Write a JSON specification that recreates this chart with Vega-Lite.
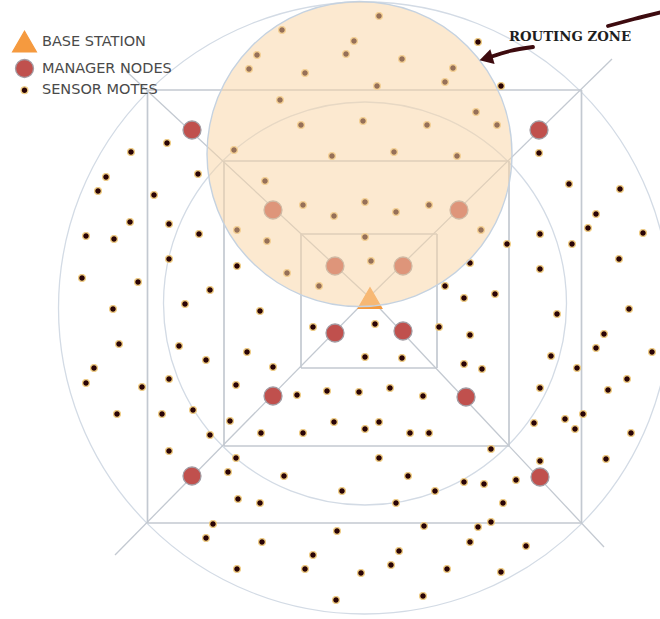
{
  "$schema": "https://vega.github.io/schema/vega-lite/v6.json",
  "width": 660,
  "height": 619,
  "padding": 0,
  "autosize": "none",
  "background": "white",
  "config": {"view": {"stroke": null}},
  "datasets": {
    "outer": [{"x": 364.5, "y": 308}],
    "middle": [{"x": 365, "y": 303.5}],
    "zone": [{"x": 359.5, "y": 154}],
    "squares": [
      {"x": 147.5, "y": 90, "x2": 581.5, "y2": 90},
      {"x": 147.5, "y": 523, "x2": 581.5, "y2": 523},
      {"x": 147.5, "y": 90, "x2": 147.5, "y2": 523},
      {"x": 581.5, "y": 90, "x2": 581.5, "y2": 523},
      {"x": 224, "y": 161, "x2": 509, "y2": 161},
      {"x": 224, "y": 446, "x2": 509, "y2": 446},
      {"x": 224, "y": 161, "x2": 224, "y2": 446},
      {"x": 509, "y": 161, "x2": 509, "y2": 446},
      {"x": 301, "y": 234, "x2": 437, "y2": 234},
      {"x": 301, "y": 368, "x2": 437, "y2": 368},
      {"x": 301, "y": 234, "x2": 301, "y2": 368},
      {"x": 437, "y": 234, "x2": 437, "y2": 368}
    ],
    "diagonals": [
      {"x": 369, "y": 297, "x2": 126, "y2": 71},
      {"x": 369, "y": 297, "x2": 612, "y2": 59},
      {"x": 369, "y": 297, "x2": 115, "y2": 555},
      {"x": 369, "y": 297, "x2": 604, "y2": 547}
    ],
    "nodes": [
      {"x": 379, "y": 16, "type": "SENSOR MOTES"},
      {"x": 282, "y": 30, "type": "SENSOR MOTES"},
      {"x": 354, "y": 41, "type": "SENSOR MOTES"},
      {"x": 257, "y": 55, "type": "SENSOR MOTES"},
      {"x": 346, "y": 54, "type": "SENSOR MOTES"},
      {"x": 402, "y": 59, "type": "SENSOR MOTES"},
      {"x": 249, "y": 69, "type": "SENSOR MOTES"},
      {"x": 305, "y": 73, "type": "SENSOR MOTES"},
      {"x": 453, "y": 68, "type": "SENSOR MOTES"},
      {"x": 445, "y": 82, "type": "SENSOR MOTES"},
      {"x": 377, "y": 86, "type": "SENSOR MOTES"},
      {"x": 280, "y": 100, "type": "SENSOR MOTES"},
      {"x": 476, "y": 112, "type": "SENSOR MOTES"},
      {"x": 497, "y": 125, "type": "SENSOR MOTES"},
      {"x": 301, "y": 125, "type": "SENSOR MOTES"},
      {"x": 363, "y": 121, "type": "SENSOR MOTES"},
      {"x": 427, "y": 125, "type": "SENSOR MOTES"},
      {"x": 234, "y": 150, "type": "SENSOR MOTES"},
      {"x": 332, "y": 156, "type": "SENSOR MOTES"},
      {"x": 394, "y": 152, "type": "SENSOR MOTES"},
      {"x": 457, "y": 156, "type": "SENSOR MOTES"},
      {"x": 265, "y": 181, "type": "SENSOR MOTES"},
      {"x": 303, "y": 205, "type": "SENSOR MOTES"},
      {"x": 365, "y": 202, "type": "SENSOR MOTES"},
      {"x": 334, "y": 216, "type": "SENSOR MOTES"},
      {"x": 396, "y": 212, "type": "SENSOR MOTES"},
      {"x": 429, "y": 205, "type": "SENSOR MOTES"},
      {"x": 237, "y": 230, "type": "SENSOR MOTES"},
      {"x": 267, "y": 241, "type": "SENSOR MOTES"},
      {"x": 365, "y": 237, "type": "SENSOR MOTES"},
      {"x": 481, "y": 230, "type": "SENSOR MOTES"},
      {"x": 371, "y": 261, "type": "SENSOR MOTES"},
      {"x": 287, "y": 273, "type": "SENSOR MOTES"},
      {"x": 319, "y": 286, "type": "SENSOR MOTES"},
      {"x": 478, "y": 42, "type": "SENSOR MOTES"},
      {"x": 501, "y": 86, "type": "SENSOR MOTES"},
      {"x": 507, "y": 244, "type": "SENSOR MOTES"},
      {"x": 470, "y": 263, "type": "SENSOR MOTES"},
      {"x": 445, "y": 286, "type": "SENSOR MOTES"},
      {"x": 464, "y": 298, "type": "SENSOR MOTES"},
      {"x": 495, "y": 294, "type": "SENSOR MOTES"},
      {"x": 237, "y": 266, "type": "SENSOR MOTES"},
      {"x": 210, "y": 290, "type": "SENSOR MOTES"},
      {"x": 260, "y": 311, "type": "SENSOR MOTES"},
      {"x": 167, "y": 143, "type": "SENSOR MOTES"},
      {"x": 131, "y": 152, "type": "SENSOR MOTES"},
      {"x": 198, "y": 174, "type": "SENSOR MOTES"},
      {"x": 106, "y": 177, "type": "SENSOR MOTES"},
      {"x": 98, "y": 191, "type": "SENSOR MOTES"},
      {"x": 154, "y": 195, "type": "SENSOR MOTES"},
      {"x": 130, "y": 222, "type": "SENSOR MOTES"},
      {"x": 169, "y": 224, "type": "SENSOR MOTES"},
      {"x": 199, "y": 234, "type": "SENSOR MOTES"},
      {"x": 86, "y": 236, "type": "SENSOR MOTES"},
      {"x": 114, "y": 239, "type": "SENSOR MOTES"},
      {"x": 169, "y": 259, "type": "SENSOR MOTES"},
      {"x": 82, "y": 278, "type": "SENSOR MOTES"},
      {"x": 138, "y": 282, "type": "SENSOR MOTES"},
      {"x": 185, "y": 304, "type": "SENSOR MOTES"},
      {"x": 113, "y": 309, "type": "SENSOR MOTES"},
      {"x": 119, "y": 344, "type": "SENSOR MOTES"},
      {"x": 179, "y": 346, "type": "SENSOR MOTES"},
      {"x": 247, "y": 352, "type": "SENSOR MOTES"},
      {"x": 206, "y": 360, "type": "SENSOR MOTES"},
      {"x": 273, "y": 367, "type": "SENSOR MOTES"},
      {"x": 313, "y": 327, "type": "SENSOR MOTES"},
      {"x": 94, "y": 368, "type": "SENSOR MOTES"},
      {"x": 539, "y": 153, "type": "SENSOR MOTES"},
      {"x": 569, "y": 184, "type": "SENSOR MOTES"},
      {"x": 620, "y": 189, "type": "SENSOR MOTES"},
      {"x": 596, "y": 214, "type": "SENSOR MOTES"},
      {"x": 588, "y": 228, "type": "SENSOR MOTES"},
      {"x": 643, "y": 233, "type": "SENSOR MOTES"},
      {"x": 540, "y": 234, "type": "SENSOR MOTES"},
      {"x": 572, "y": 244, "type": "SENSOR MOTES"},
      {"x": 619, "y": 259, "type": "SENSOR MOTES"},
      {"x": 540, "y": 269, "type": "SENSOR MOTES"},
      {"x": 557, "y": 314, "type": "SENSOR MOTES"},
      {"x": 629, "y": 309, "type": "SENSOR MOTES"},
      {"x": 604, "y": 334, "type": "SENSOR MOTES"},
      {"x": 596, "y": 348, "type": "SENSOR MOTES"},
      {"x": 652, "y": 352, "type": "SENSOR MOTES"},
      {"x": 439, "y": 327, "type": "SENSOR MOTES"},
      {"x": 470, "y": 335, "type": "SENSOR MOTES"},
      {"x": 375, "y": 324, "type": "SENSOR MOTES"},
      {"x": 365, "y": 357, "type": "SENSOR MOTES"},
      {"x": 402, "y": 358, "type": "SENSOR MOTES"},
      {"x": 464, "y": 364, "type": "SENSOR MOTES"},
      {"x": 482, "y": 369, "type": "SENSOR MOTES"},
      {"x": 551, "y": 356, "type": "SENSOR MOTES"},
      {"x": 577, "y": 368, "type": "SENSOR MOTES"},
      {"x": 86, "y": 383, "type": "SENSOR MOTES"},
      {"x": 142, "y": 387, "type": "SENSOR MOTES"},
      {"x": 169, "y": 379, "type": "SENSOR MOTES"},
      {"x": 236, "y": 385, "type": "SENSOR MOTES"},
      {"x": 297, "y": 395, "type": "SENSOR MOTES"},
      {"x": 327, "y": 391, "type": "SENSOR MOTES"},
      {"x": 117, "y": 414, "type": "SENSOR MOTES"},
      {"x": 162, "y": 414, "type": "SENSOR MOTES"},
      {"x": 193, "y": 410, "type": "SENSOR MOTES"},
      {"x": 230, "y": 421, "type": "SENSOR MOTES"},
      {"x": 210, "y": 435, "type": "SENSOR MOTES"},
      {"x": 261, "y": 433, "type": "SENSOR MOTES"},
      {"x": 303, "y": 433, "type": "SENSOR MOTES"},
      {"x": 169, "y": 451, "type": "SENSOR MOTES"},
      {"x": 236, "y": 458, "type": "SENSOR MOTES"},
      {"x": 228, "y": 472, "type": "SENSOR MOTES"},
      {"x": 284, "y": 476, "type": "SENSOR MOTES"},
      {"x": 238, "y": 499, "type": "SENSOR MOTES"},
      {"x": 260, "y": 503, "type": "SENSOR MOTES"},
      {"x": 213, "y": 524, "type": "SENSOR MOTES"},
      {"x": 206, "y": 538, "type": "SENSOR MOTES"},
      {"x": 262, "y": 542, "type": "SENSOR MOTES"},
      {"x": 313, "y": 555, "type": "SENSOR MOTES"},
      {"x": 237, "y": 569, "type": "SENSOR MOTES"},
      {"x": 305, "y": 569, "type": "SENSOR MOTES"},
      {"x": 540, "y": 388, "type": "SENSOR MOTES"},
      {"x": 608, "y": 390, "type": "SENSOR MOTES"},
      {"x": 627, "y": 379, "type": "SENSOR MOTES"},
      {"x": 359, "y": 392, "type": "SENSOR MOTES"},
      {"x": 390, "y": 388, "type": "SENSOR MOTES"},
      {"x": 423, "y": 396, "type": "SENSOR MOTES"},
      {"x": 334, "y": 422, "type": "SENSOR MOTES"},
      {"x": 365, "y": 429, "type": "SENSOR MOTES"},
      {"x": 379, "y": 422, "type": "SENSOR MOTES"},
      {"x": 410, "y": 433, "type": "SENSOR MOTES"},
      {"x": 429, "y": 433, "type": "SENSOR MOTES"},
      {"x": 534, "y": 423, "type": "SENSOR MOTES"},
      {"x": 565, "y": 419, "type": "SENSOR MOTES"},
      {"x": 575, "y": 429, "type": "SENSOR MOTES"},
      {"x": 583, "y": 414, "type": "SENSOR MOTES"},
      {"x": 631, "y": 433, "type": "SENSOR MOTES"},
      {"x": 491, "y": 449, "type": "SENSOR MOTES"},
      {"x": 379, "y": 458, "type": "SENSOR MOTES"},
      {"x": 540, "y": 461, "type": "SENSOR MOTES"},
      {"x": 606, "y": 459, "type": "SENSOR MOTES"},
      {"x": 408, "y": 476, "type": "SENSOR MOTES"},
      {"x": 342, "y": 491, "type": "SENSOR MOTES"},
      {"x": 435, "y": 491, "type": "SENSOR MOTES"},
      {"x": 464, "y": 482, "type": "SENSOR MOTES"},
      {"x": 484, "y": 484, "type": "SENSOR MOTES"},
      {"x": 516, "y": 480, "type": "SENSOR MOTES"},
      {"x": 396, "y": 503, "type": "SENSOR MOTES"},
      {"x": 503, "y": 503, "type": "SENSOR MOTES"},
      {"x": 337, "y": 531, "type": "SENSOR MOTES"},
      {"x": 424, "y": 526, "type": "SENSOR MOTES"},
      {"x": 478, "y": 527, "type": "SENSOR MOTES"},
      {"x": 491, "y": 522, "type": "SENSOR MOTES"},
      {"x": 470, "y": 542, "type": "SENSOR MOTES"},
      {"x": 526, "y": 546, "type": "SENSOR MOTES"},
      {"x": 399, "y": 551, "type": "SENSOR MOTES"},
      {"x": 391, "y": 565, "type": "SENSOR MOTES"},
      {"x": 361, "y": 573, "type": "SENSOR MOTES"},
      {"x": 447, "y": 569, "type": "SENSOR MOTES"},
      {"x": 501, "y": 572, "type": "SENSOR MOTES"},
      {"x": 336, "y": 600, "type": "SENSOR MOTES"},
      {"x": 423, "y": 596, "type": "SENSOR MOTES"},
      {"x": 192, "y": 130, "type": "MANAGER NODES"},
      {"x": 539, "y": 130, "type": "MANAGER NODES"},
      {"x": 273, "y": 210, "type": "MANAGER NODES"},
      {"x": 459, "y": 210, "type": "MANAGER NODES"},
      {"x": 335, "y": 266, "type": "MANAGER NODES"},
      {"x": 403, "y": 266, "type": "MANAGER NODES"},
      {"x": 335, "y": 333, "type": "MANAGER NODES"},
      {"x": 403, "y": 331, "type": "MANAGER NODES"},
      {"x": 273, "y": 396, "type": "MANAGER NODES"},
      {"x": 466, "y": 397, "type": "MANAGER NODES"},
      {"x": 192, "y": 476, "type": "MANAGER NODES"},
      {"x": 540, "y": 477, "type": "MANAGER NODES"},
      {"x": 370, "y": 298, "type": "BASE STATION"}
    ],
    "arrow": [
      {"x": 662, "y": 12, "seg": "a"},
      {"x": 634, "y": 19, "seg": "a"},
      {"x": 608, "y": 26, "seg": "a"},
      {"x": 533, "y": 47, "seg": "b"},
      {"x": 510, "y": 51, "seg": "b"},
      {"x": 490, "y": 57, "seg": "b"}
    ],
    "head": [{"x": 486, "y": 58.5}],
    "label": [{"x": 570, "y": 37, "t": "ROUTING ZONE"}]
  },
  "encoding": {
    "x": {"field": "x", "type": "quantitative", "scale": {"domain": [0, 660], "nice": false, "zero": false}, "axis": null},
    "y": {"field": "y", "type": "quantitative", "scale": {"domain": [0, 619], "nice": false, "zero": false, "reverse": true}, "axis": null}
  },
  "layer": [
    {
      "data": {"name": "outer"},
      "mark": {"type": "point", "shape": "circle", "filled": false, "size": 374544, "stroke": "#d3dbe5", "strokeWidth": 1.3, "opacity": 1}
    },
    {
      "data": {"name": "middle"},
      "mark": {"type": "point", "shape": "circle", "filled": false, "size": 162409, "stroke": "#d3dbe5", "strokeWidth": 1.3, "opacity": 1}
    },
    {
      "data": {"name": "squares"},
      "mark": {"type": "rule", "stroke": "#c3c9d1", "strokeWidth": 1.7},
      "encoding": {"x2": {"field": "x2"}, "y2": {"field": "y2"}}
    },
    {
      "data": {"name": "diagonals"},
      "mark": {"type": "rule", "stroke": "#c3c9d1", "strokeWidth": 1.3},
      "encoding": {"x2": {"field": "x2"}, "y2": {"field": "y2"}}
    },
    {
      "data": {"name": "nodes"},
      "mark": {"type": "point", "filled": true, "opacity": 1, "strokeWidth": 1.3},
      "encoding": {
        "color": {
          "field": "type", "type": "nominal",
          "scale": {"domain": ["BASE STATION", "MANAGER NODES", "SENSOR MOTES"], "range": ["#f59a3f", "#c0504d", "#2a0406"]},
          "legend": {
            "title": null, "orient": "none", "legendX": 12, "legendY": 29, "padding": 0,
            "labelFont": "DejaVu Sans", "labelFontSize": 14.5, "labelColor": "#4a4a4a",
            "labelOffset": 5, "rowPadding": 1.5, "symbolStrokeWidth": 1.3
          }
        },
        "shape": {
          "field": "type", "type": "nominal",
          "scale": {"domain": ["BASE STATION", "MANAGER NODES", "SENSOR MOTES"], "range": ["triangle-up", "circle", "circle"]},
          "legend": {"title": null}
        },
        "size": {
          "field": "type", "type": "nominal",
          "scale": {"type": "ordinal", "domain": ["BASE STATION", "MANAGER NODES", "SENSOR MOTES"], "range": [560, 324, 46]},
          "legend": {"title": null}
        },
        "stroke": {
          "field": "type", "type": "nominal",
          "scale": {"domain": ["BASE STATION", "MANAGER NODES", "SENSOR MOTES"], "range": ["#f59a3f", "#a39ca3", "#f2cf86"]},
          "legend": {"title": null}
        }
      }
    },
    {
      "data": {"name": "zone"},
      "mark": {"type": "point", "shape": "circle", "filled": true, "size": 93025, "fill": "#fad4a4", "fillOpacity": 0.52, "stroke": "#c5d2e0", "strokeWidth": 1.4, "strokeOpacity": 1, "opacity": 1}
    },
    {
      "data": {"name": "arrow"},
      "mark": {"type": "line", "stroke": "#3d0b0f", "strokeWidth": 3.8, "interpolate": "monotone", "strokeCap": "round"},
      "encoding": {"detail": {"field": "seg"}}
    },
    {
      "data": {"name": "head"},
      "mark": {"type": "point", "shape": "triangle-left", "filled": true, "size": 240, "angle": -16, "color": "#3d0b0f", "opacity": 1}
    },
    {
      "data": {"name": "label"},
      "mark": {"type": "text", "font": "DejaVu Serif", "fontWeight": "bold", "fontSize": 13.3, "color": "#1e1e1e", "align": "center", "baseline": "middle"},
      "encoding": {"text": {"field": "t"}}
    }
  ]
}
